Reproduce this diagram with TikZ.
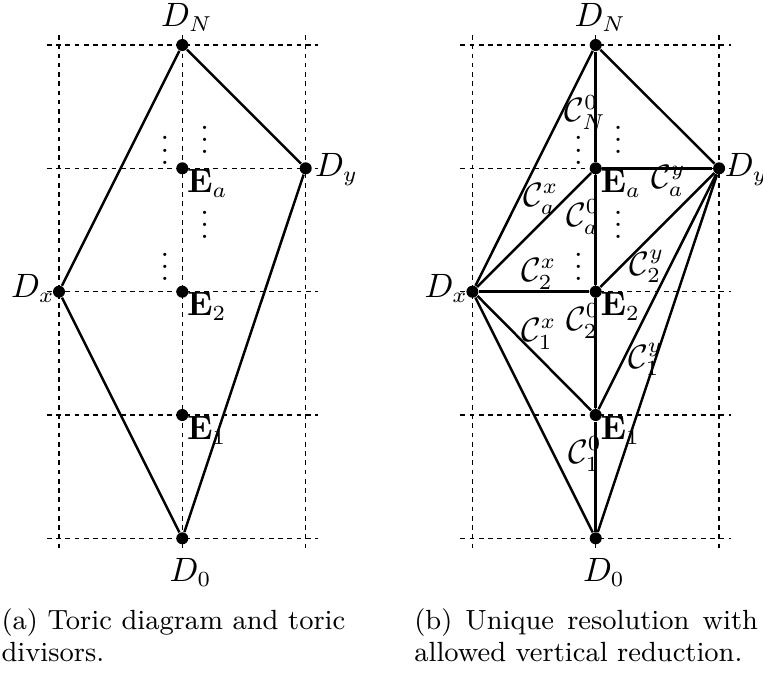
\documentclass[tikz,border=0pt]{standalone}
\usepackage{amsmath}
\newcommand\tightvdots{\vbox{\baselineskip4pt\lineskiplimit0pt\hbox{.}\hbox{.}\hbox{.}}}
\begin{document}
\begin{tikzpicture}[x=0.32435pt,y=-0.32435pt,
  dot/.style={circle,fill=black,inner sep=0pt,minimum size=3.9pt},
  gridline/.style={dash pattern=on 1.5pt off 1.5pt,line width=0.4pt},
  edge/.style={line width=0.8pt},
  lab/.style={anchor=base west,inner sep=0pt,font=\fontsize{10.6}{13}\selectfont},
  vd/.style={anchor=base,inner sep=0pt},
  captext/.style={anchor=base west,inner sep=0pt,text width=111.5pt,align=justify,font=\fontsize{9}{10.4}\selectfont}]
\useasboundingbox (0,0) rectangle (763,673);

% ---------- grids ----------
\foreach \o in {0,413.4}{
  \foreach \x in {59,182.3,305.7} \draw[gridline] (\x+\o,35) -- (\x+\o,549);
  \foreach \y in {45,168.3,291.7,415,538.3} \draw[gridline] (47+\o,\y) -- (318+\o,\y);
}

% ---------- left diagram ----------
\node[dot] (aDN) at (182.3,45) {};
\node[dot] (aDy) at (305.7,168.3) {};
\node[dot] (aDx) at (59,291.7) {};
\node[dot] (aD0) at (182.3,538.3) {};
\node[dot] (aEa) at (182.3,168.3) {};
\node[dot] (aE2) at (182.3,291.7) {};
\node[dot] (aE1) at (182.3,415) {};
\draw[edge] (aDN) -- (aDx) -- (aD0) -- (aDy) -- (aDN);

\node[lab] (laDN) at (160.5,26) {$D_N$};
\node[lab] (laDy) at (314.5,176.7) {$D_y$};
\node[lab] (laDx) at (10.5,297.7) {$D_x$};
\node[lab] (laD0) at (169,581) {$D_0$};
\node[lab] (laEa) at (186.5,192.5) {$\mathbf{E}_a$};
\node[lab] (laE2) at (186.5,315.7) {$\mathbf{E}_2$};
\node[lab] (laE1) at (186.5,439) {$\mathbf{E}_1$};

\node[vd] (av1) at (165,164.6) {\tightvdots};
\node[vd] (av2) at (204.7,153.9) {\tightvdots};
\node[vd] (av3) at (204.7,238.9) {\tightvdots};
\node[vd] (av4) at (165,280.9) {\tightvdots};

% ---------- right diagram ----------
\node[dot] (bDN) at (595.7,45) {};
\node[dot] (bDy) at (719.1,168.3) {};
\node[dot] (bDx) at (472.4,291.7) {};
\node[dot] (bD0) at (595.7,538.3) {};
\node[dot] (bEa) at (595.7,168.3) {};
\node[dot] (bE2) at (595.7,291.7) {};
\node[dot] (bE1) at (595.7,415) {};
\draw[edge] (bDN) -- (bDx) -- (bD0) -- (bDy) -- (bDN);
\draw[edge] (bDN) -- (bEa) -- (bE2) -- (bE1) -- (bD0);
\draw[edge] (bEa) -- (bDy);
\draw[edge] (bEa) -- (bDx);
\draw[edge] (bDx) -- (bE2);
\draw[edge] (bE2) -- (bDy);
\draw[edge] (bDx) -- (bE1);
\draw[edge] (bE1) -- (bDy);

\node[lab] (lbDN) at (573.9,26) {$D_N$};
\node[lab] (lbDy) at (724.3,176.7) {$D_y$};
\node[lab] (lbDx) at (423.9,297.7) {$D_x$};
\node[lab] (lbD0) at (582.4,581) {$D_0$};
\node[lab] (lbEa) at (599.9,192.5) {$\mathbf{E}_a$};
\node[lab] (lbE2) at (599.9,315.7) {$\mathbf{E}_2$};
\node[lab] (lbE1) at (599.9,439) {$\mathbf{E}_1$};

\node[lab] (cN0) at (564,121.5) {$\mathcal{C}^0_N$};
\node[lab] (cay) at (650.5,188) {$\mathcal{C}^y_a$};
\node[lab] (cax) at (522.5,206) {$\mathcal{C}^x_a$};
\node[lab] (ca0) at (565.5,226) {$\mathcal{C}^0_a$};
\node[lab] (c2x) at (520.5,281) {$\mathcal{C}^x_2$};
\node[lab] (c2y) at (629,275) {$\mathcal{C}^y_2$};
\node[lab] (c20) at (565.5,330) {$\mathcal{C}^0_2$};
\node[lab] (c1x) at (520.5,341) {$\mathcal{C}^x_1$};
\node[lab] (c1y) at (627.5,368) {$\mathcal{C}^y_1$};
\node[lab] (c10) at (567.5,463) {$\mathcal{C}^0_1$};

\node[vd] (bv1) at (578.4,164.6) {\tightvdots};
\node[vd] (bv2) at (618.1,153.9) {\tightvdots};
\node[vd] (bv3) at (618.1,238.9) {\tightvdots};
\node[vd] (bv4) at (578.4,280.9) {\tightvdots};

% ---------- captions ----------
\node[captext] (capa) at (1,629.3) {(a) Toric diagram and toric divisors.};
\node[captext] (capb) at (413.7,629.3) {(b) Unique resolution with allowed vertical reduction.};
\end{tikzpicture}
\end{document}
